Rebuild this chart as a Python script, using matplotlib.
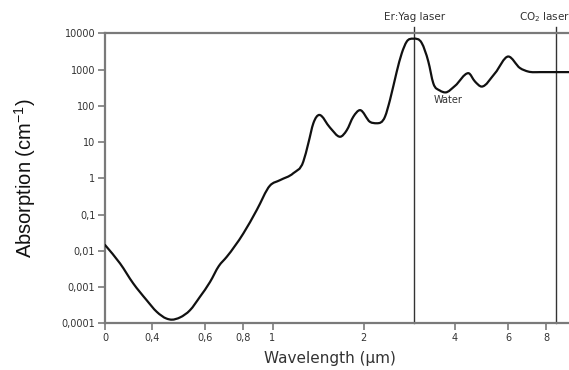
import numpy as np
import matplotlib
matplotlib.use("Agg")
import matplotlib.pyplot as plt
from matplotlib.path import Path
from matplotlib.patches import PathPatch

# Data (wavelength in µm, absorption in cm^-1)
wavelength = [0.280, 0.314, 0.347, 0.384, 0.415, 0.447, 0.465, 0.495, 0.534, 0.576,
              0.622, 0.665, 0.706, 0.801, 0.887, 0.981, 1.059, 1.171, 1.264, 1.313,
              1.364, 1.427, 1.548, 1.671, 1.757, 1.848, 1.945, 2.098, 2.208, 2.351,
              2.442, 2.570, 2.670, 2.773, 2.915, 3.108, 3.268, 3.394, 3.570, 3.720,
              4.003, 4.429, 4.658, 4.902, 5.425, 6.001, 6.558, 6.985, 7.630, 10.0]
absorption = [0.0145, 0.00447, 0.00126, 0.000437, 0.000207, 0.000135, 0.000126, 0.000145, 0.000229, 0.000537,
              0.00138, 0.0038, 0.0068, 0.030, 0.133, 0.63, 0.89, 1.38, 2.9, 9.3,
              33, 56, 25, 14, 21, 50, 76, 36, 33, 50,
              145, 870, 2800, 5900, 7100, 5400, 1660, 417, 263, 234,
              355, 795, 468, 339, 795, 2290, 1100, 880, 850, 850]

x_ticks = [0.28, 0.4, 0.6, 0.8, 1, 2, 4, 6, 8, 10]
x_tick_labels = ["0", "0,4", "0,6", "0,8", "1", "2", "4", "6", "8", "10"]
y_ticks = [1e-4, 1e-3, 1e-2, 1e-1, 1, 10, 100, 1000, 10000]
y_tick_labels = ["0,0001", "0,001", "0,01", "0,1", "1", "10", "100", "1000", "10000"]

lasers = ["Er:Yag laser", "CO$_2$ laser"]
laser_wavelengths = [2.94, 8.65]

W, H = 569, 370
fig = plt.figure(figsize=(W / 100, H / 100), dpi=100)
left, right, top, bottom = 105, 575.5, 33.3, 323.3
ax = fig.add_axes([left / W, 1 - bottom / H, (right - left) / W, (bottom - top) / H])
ax.set_xscale("log")
ax.set_yscale("log")
ax.set_xlim(0.28, 10)
ax.set_ylim(1e-4, 1e4)

# Smooth curve through the points: cubic Hermite (as Bezier) in log-log space
lx = np.log10(wavelength)
ly = np.log10(absorption)
n = len(lx)
m = np.zeros(n)
for i in range(n):
    if i == 0:
        m[i] = (ly[1] - ly[0]) / (lx[1] - lx[0])
    elif i == n - 1:
        m[i] = 0.0
    else:
        d0 = (ly[i] - ly[i - 1]) / (lx[i] - lx[i - 1])
        d1 = (ly[i + 1] - ly[i]) / (lx[i + 1] - lx[i])
        if d0 * d1 <= 0:
            m[i] = 0.0
        else:
            h0 = lx[i] - lx[i - 1]
            h1 = lx[i + 1] - lx[i]
            m[i] = (h1 * d0 + h0 * d1) / (h0 + h1)
verts = [(lx[0], ly[0])]
codes = [Path.MOVETO]
for i in range(n - 1):
    h = lx[i + 1] - lx[i]
    verts += [(lx[i] + h / 3, ly[i] + m[i] * h / 3),
              (lx[i + 1] - h / 3, ly[i + 1] - m[i + 1] * h / 3),
              (lx[i + 1], ly[i + 1])]
    codes += [Path.CURVE4] * 3
verts = 10 ** np.array(verts)
patch = PathPatch(Path(verts, codes), facecolor="none", edgecolor="#111111", lw=1.6,
                  transform=ax.transData, zorder=3, capstyle="round", joinstyle="round")
ax.add_patch(patch)

gray = "#7a7a7a"
for s in ["left", "bottom", "top"]:
    ax.spines[s].set_color(gray)
    ax.spines[s].set_linewidth(1.6)
ax.spines["right"].set_visible(False)

ax.xaxis.set_minor_locator(matplotlib.ticker.NullLocator())
ax.yaxis.set_minor_locator(matplotlib.ticker.NullLocator())
ax.set_xticks(x_ticks)
ax.set_xticklabels(x_tick_labels)
ax.set_yticks(y_ticks)
ax.set_yticklabels(y_tick_labels)
ax.tick_params(axis="both", direction="out", length=5, width=1.2, color=gray,
               labelsize=7, labelcolor="#333333", pad=2)

for lam in laser_wavelengths:
    ax.axvline(lam, ymin=0, ymax=1.022, color="#333333", lw=1.0, clip_on=False, zorder=2)

ax.text(laser_wavelengths[0], 10 ** 4.45, lasers[0], ha="center", va="center",
        fontsize=7.5, color="#333333")
ax.text(6.5, 10 ** 4.45, lasers[1], ha="left", va="center", fontsize=7.5, color="#333333")
ax.text(3.8, 10 ** 2.15, "Water", ha="center", va="center", fontsize=7, color="#333333")

fig.text(330 / W, 1 - 358 / H, "Wavelength (µm)", ha="center", va="center",
         fontsize=11, color="#333333")
fig.text(25 / W, 1 - 178 / H, r"Absorption (cm$^{\mathregular{-1}}$)", ha="center", va="center",
         rotation=90, fontsize=14.5, family="Liberation Sans", color="#111111")

fig.savefig("out.png", dpi=100)
